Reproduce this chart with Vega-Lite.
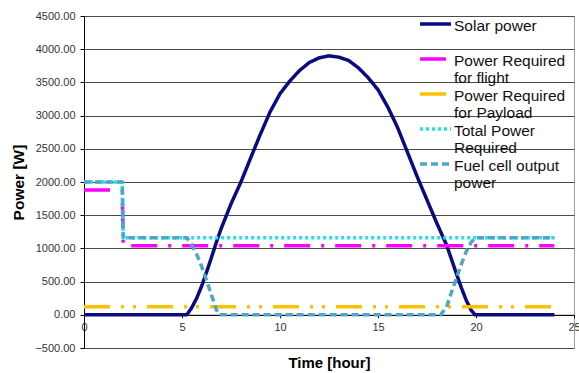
{
  "$schema": "https://vega.github.io/schema/vega-lite/v6.json",
  "width": 490,
  "height": 332,
  "autosize": {"type": "none"},
  "padding": {"left": 84, "top": 16, "right": 5, "bottom": 25},
  "background": "white",
  "config": {"font": "Liberation Sans", "view": {"stroke": "#a0a0a0", "strokeWidth": 1}},
  "data": {"values": [
    {"series": "Solar power", "t": 0, "p": 0},
    {"series": "Solar power", "t": 5.25, "p": 0},
    {"series": "Solar power", "t": 5.5, "p": 110},
    {"series": "Solar power", "t": 5.75, "p": 250},
    {"series": "Solar power", "t": 6.0, "p": 430},
    {"series": "Solar power", "t": 6.25, "p": 640},
    {"series": "Solar power", "t": 6.5, "p": 860},
    {"series": "Solar power", "t": 6.75, "p": 1090},
    {"series": "Solar power", "t": 7.0, "p": 1300},
    {"series": "Solar power", "t": 7.5, "p": 1670},
    {"series": "Solar power", "t": 8.0, "p": 1995},
    {"series": "Solar power", "t": 8.5, "p": 2360},
    {"series": "Solar power", "t": 9.0, "p": 2720},
    {"series": "Solar power", "t": 9.5, "p": 3060},
    {"series": "Solar power", "t": 10.0, "p": 3330},
    {"series": "Solar power", "t": 10.5, "p": 3520},
    {"series": "Solar power", "t": 11.0, "p": 3680},
    {"series": "Solar power", "t": 11.5, "p": 3800},
    {"series": "Solar power", "t": 12.0, "p": 3870},
    {"series": "Solar power", "t": 12.5, "p": 3900},
    {"series": "Solar power", "t": 13.0, "p": 3880},
    {"series": "Solar power", "t": 13.5, "p": 3830},
    {"series": "Solar power", "t": 14.0, "p": 3720},
    {"series": "Solar power", "t": 14.5, "p": 3570},
    {"series": "Solar power", "t": 15.0, "p": 3390},
    {"series": "Solar power", "t": 15.5, "p": 3130},
    {"series": "Solar power", "t": 16.0, "p": 2820},
    {"series": "Solar power", "t": 16.5, "p": 2450},
    {"series": "Solar power", "t": 17.0, "p": 2080},
    {"series": "Solar power", "t": 17.5, "p": 1730},
    {"series": "Solar power", "t": 18.0, "p": 1380},
    {"series": "Solar power", "t": 18.5, "p": 1050},
    {"series": "Solar power", "t": 19.0, "p": 620},
    {"series": "Solar power", "t": 19.25, "p": 410},
    {"series": "Solar power", "t": 19.5, "p": 220},
    {"series": "Solar power", "t": 19.75, "p": 70},
    {"series": "Solar power", "t": 19.95, "p": 0},
    {"series": "Solar power", "t": 24, "p": 0},
    {"series": "Power Required for flight", "t": 0, "p": 1880},
    {"series": "Power Required for flight", "t": 1.95, "p": 1880},
    {"series": "Power Required for flight", "t": 2.0, "p": 1040},
    {"series": "Power Required for flight", "t": 24, "p": 1040},
    {"series": "Power Required for Payload", "t": 0, "p": 120},
    {"series": "Power Required for Payload", "t": 24, "p": 120},
    {"series": "Total Power Required", "t": 0, "p": 2000},
    {"series": "Total Power Required", "t": 1.95, "p": 2000},
    {"series": "Total Power Required", "t": 2.0, "p": 1160},
    {"series": "Total Power Required", "t": 24, "p": 1160},
    {"series": "Fuel cell output power", "t": 0, "p": 2000},
    {"series": "Fuel cell output power", "t": 1.95, "p": 2000},
    {"series": "Fuel cell output power", "t": 2.0, "p": 1160},
    {"series": "Fuel cell output power", "t": 5.25, "p": 1160},
    {"series": "Fuel cell output power", "t": 5.5, "p": 1050},
    {"series": "Fuel cell output power", "t": 5.75, "p": 910},
    {"series": "Fuel cell output power", "t": 6.0, "p": 730},
    {"series": "Fuel cell output power", "t": 6.25, "p": 520},
    {"series": "Fuel cell output power", "t": 6.5, "p": 300},
    {"series": "Fuel cell output power", "t": 6.75, "p": 80},
    {"series": "Fuel cell output power", "t": 6.9, "p": 0},
    {"series": "Fuel cell output power", "t": 18.2, "p": 0},
    {"series": "Fuel cell output power", "t": 18.5, "p": 120},
    {"series": "Fuel cell output power", "t": 18.75, "p": 340},
    {"series": "Fuel cell output power", "t": 19.0, "p": 550},
    {"series": "Fuel cell output power", "t": 19.25, "p": 760},
    {"series": "Fuel cell output power", "t": 19.5, "p": 950},
    {"series": "Fuel cell output power", "t": 19.75, "p": 1090},
    {"series": "Fuel cell output power", "t": 19.95, "p": 1160},
    {"series": "Fuel cell output power", "t": 24, "p": 1160}
  ]},
  "mark": {"type": "line", "strokeCap": "butt", "strokeJoin": "round"},
  "encoding": {
    "x": {
      "field": "t", "type": "quantitative",
      "scale": {"domain": [0, 25], "nice": false, "zero": false},
      "axis": {
        "title": "Time [hour]", "values": [0, 5, 10, 15, 20, 25], "offset": -33.2,
        "grid": false, "domainColor": "#000", "tickColor": "#000", "tickSize": 3,
        "labelFontSize": 11, "labelColor": "#333", "labelPadding": 4, "labelFlush": false,
        "titleFontSize": 15, "titleFontWeight": "bold", "titleColor": "#000", "titlePadding": 23
      }
    },
    "y": {
      "field": "p", "type": "quantitative",
      "scale": {"domain": [-500, 4500], "nice": false, "zero": false},
      "axis": {
        "title": "Power [W]", "values": [-500, 0, 500, 1000, 1500, 2000, 2500, 3000, 3500, 4000, 4500],
        "format": ".2f", "grid": true, "gridColor": "#4a4a4a", "gridWidth": 1,
        "domainColor": "#000", "tickColor": "#000", "tickSize": 4,
        "labelFontSize": 11, "labelColor": "#333", "labelPadding": 5,
        "titleFontSize": 15.5, "titleFontWeight": "bold", "titleColor": "#000", "titlePadding": 8
      }
    },
    "color": {
      "field": "series", "type": "nominal",
      "scale": {
        "domain": ["Solar power", "Power Required for flight", "Power Required for Payload", "Total Power Required", "Fuel cell output power"],
        "range": ["#0b0b80", "#ff00ff", "#ffc000", "#22e0e8", "#4ba6c8"]
      },
      "legend": {
        "title": null, "orient": "none", "legendX": 334, "legendY": 1, "padding": 0,
        "symbolType": "stroke", "symbolSize": 961, "labelFontSize": 15.5, "labelColor": "#111",
        "labelOffset": 1, "labelLimit": 220, "rowPadding": 0,
        "labelExpr": "datum.value == 'Power Required for flight' ? ['Power Required', 'for flight'] : datum.value == 'Power Required for Payload' ? ['Power Required', 'for Payload'] : datum.value == 'Total Power Required' ? ['Total Power', 'Required'] : datum.value == 'Fuel cell output power' ? ['Fuel cell output', 'power'] : [datum.label, '']",
        "encode": {
          "labels": {"update": {"lineHeight": {"value": 17}, "dy": {"value": -8.6}}},
          "symbols": {"update": {"y": {"value": 7}}}
        }
      }
    },
    "strokeDash": {
      "field": "series", "type": "nominal",
      "scale": {
        "domain": ["Solar power", "Power Required for flight", "Power Required for Payload", "Total Power Required", "Fuel cell output power"],
        "range": [[1, 0], [26, 11, 3, 11], [26, 11, 3, 9, 3, 11], [3, 3], [7, 4]]
      }
    },
    "strokeWidth": {
      "field": "series", "type": "nominal",
      "scale": {
        "domain": ["Solar power", "Power Required for flight", "Power Required for Payload", "Total Power Required", "Fuel cell output power"],
        "range": [3.5, 3.5, 3.5, 3, 2.5]
      }
    }
  }
}
